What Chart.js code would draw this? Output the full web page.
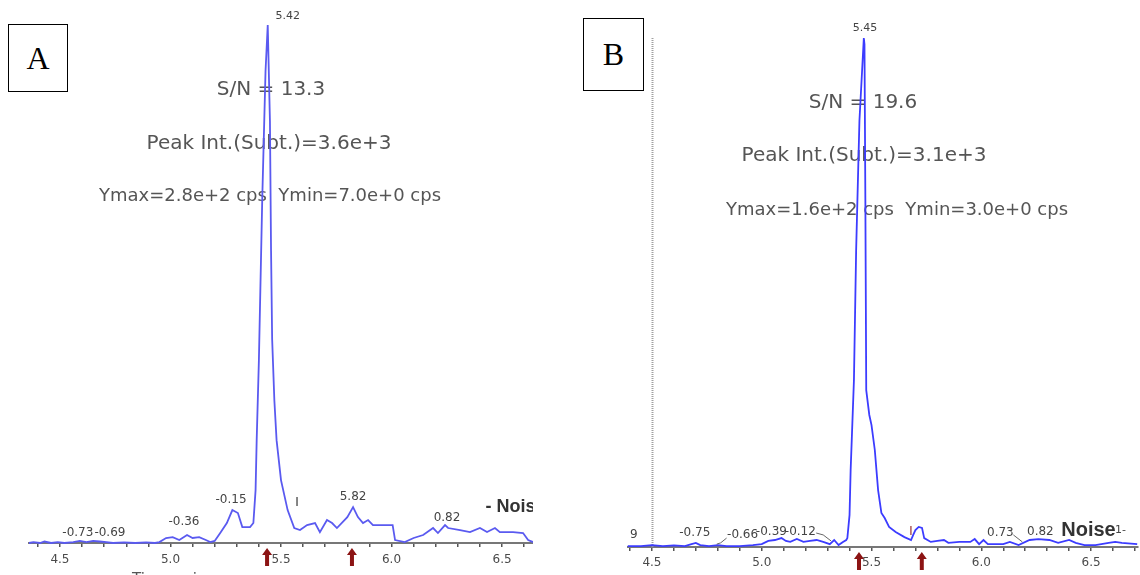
<!DOCTYPE html>
<html>
<head>
<meta charset="utf-8">
<script src="https://cdn.jsdelivr.net/npm/chart.js@4.4.0/dist/chart.umd.min.js"></script>
<style>
  body { margin: 0; width: 1140px; height: 575px; background: #fff; position: relative; overflow: hidden; }
  canvas { position: absolute; top: 0; }
  #chartA { left: 0; }
  #chartB { left: 580px; }
  .tag { position: absolute; border: 1px solid #000; background: #fff; font-family: "Liberation Serif", serif;
         font-size: 32px; color: #000; display: flex; align-items: center; justify-content: center; }
</style>
</head>
<body>
<canvas id="chartA" width="533" height="575"></canvas>
<canvas id="chartB" width="560" height="575"></canvas>
<div class="tag" style="left:8px; top:24px; width:58px; height:66px;">A</div>
<div class="tag" style="left:583px; top:18px; width:59px; height:71px;">B</div>
<script>
// retention time (min) and intensity (cps)
const timeA = [4.36, 4.38, 4.41, 4.43, 4.46, 4.49, 4.52, 4.56, 4.59, 4.62, 4.65, 4.68, 4.71, 4.74, 4.79, 4.84, 4.89, 4.93,
  4.95, 4.98, 5.01, 5.04, 5.075, 5.10, 5.13, 5.16, 5.18, 5.20, 5.225, 5.255, 5.28, 5.305, 5.325, 5.36, 5.375, 5.385,
  5.39, 5.40, 5.415, 5.43, 5.44, 5.45, 5.455, 5.46, 5.47, 5.48, 5.50, 5.53, 5.56, 5.586, 5.618, 5.654, 5.676, 5.708,
  5.731, 5.753, 5.80, 5.826, 5.848, 5.871, 5.894, 5.916, 5.95, 6.005, 6.016, 6.06, 6.10, 6.143, 6.188, 6.21, 6.242,
  6.256, 6.31, 6.355, 6.40, 6.432, 6.468, 6.49, 6.55, 6.595, 6.618, 6.64];
const intensityA = [0, 0.5, 0, 0.8, 0, 0.5, 0, 0.5, 1.1, 0.5, 1.1, 0.8, 0.5, 0, 0.3, 0, 0.3, 0,
  0.5, 2.7, 3.2, 1.6, 4.3, 2.7, 3.2, 1.6, 0.5, 1.1, 5.4, 10.8, 17.8, 16.2, 8.6, 8.6, 10.8, 28.6,
  55.6, 98.8, 185, 255, 280, 228, 158, 110, 77, 55.6, 34, 17.8, 8.1, 7.0, 9.7, 10.8, 5.9, 12.4,
  10.8, 8.1, 14.0, 19.4, 14.0, 10.8, 12.4, 9.7, 9.7, 9.7, 1.6, 0.5, 2.7, 4.3, 8.1, 5.4, 9.7,
  8.1, 7.0, 5.9, 8.1, 5.9, 8.1, 5.9, 5.9, 5.4, 1.6, 0.5];

const timeB = [4.39, 4.45, 4.50, 4.55, 4.60, 4.65, 4.68, 4.70, 4.72, 4.76, 4.80, 4.84, 4.90, 4.96, 5.00, 5.03, 5.06,
  5.09, 5.11, 5.13, 5.16, 5.19, 5.22, 5.25, 5.28, 5.31, 5.33, 5.35, 5.37, 5.385, 5.39, 5.40, 5.405, 5.41, 5.42, 5.43,
  5.445, 5.465, 5.468, 5.472, 5.476, 5.49, 5.50, 5.515, 5.53, 5.545, 5.56, 5.58, 5.61, 5.65, 5.68, 5.69, 5.70, 5.715,
  5.73, 5.74, 5.77, 5.80, 5.83, 5.85, 5.90, 5.95, 5.97, 5.99, 6.01, 6.03, 6.10, 6.13, 6.17, 6.22, 6.26, 6.31, 6.35,
  6.40, 6.43, 6.47, 6.52, 6.58, 6.61, 6.64, 6.71];
const intensityB = [0.3, 0.3, 0.6, 0.3, 0.5, 0.3, 0.9, 1.3, 0.6, 0.3, 0.6, 0.3, 0.3, 0.6, 0.9, 1.9, 2.2,
  2.8, 1.9, 1.6, 2.5, 1.6, 1.9, 2.2, 1.6, 0.9, 2.2, 0.6, 1.6, 2.2, 2.8, 10.1, 24.2, 33.6, 52.5, 93.3,
  134, 160, 158, 109, 49.3, 41.5, 38.3, 30.5, 17.9, 10.7, 9.1, 6.3, 4.7, 3.1, 2.2, 3.8, 5.3, 6.3,
  6.0, 2.8, 1.6, 1.9, 2.2, 1.3, 1.6, 1.6, 2.5, 0.9, 2.2, 0.9, 0.9, 1.6, 0.6, 2.2, 2.5, 2.2, 1.3,
  2.2, 1.3, 0.6, 0.6, 1.3, 1.6, 1.3, 0.9];

const tickLabels = ['4.5', '5.0', '5.5', '6.0', '6.5'];
const arrowsA = [5.437, 5.821];
const arrowsB = [5.443, 5.729];

const statsA = ['S/N = 13.3', 'Peak Int.(Subt.)=3.6e+3', 'Ymax=2.8e+2 cps  Ymin=7.0e+0 cps'];
const statsB = ['S/N = 19.6', 'Peak Int.(Subt.)=3.1e+3', 'Ymax=1.6e+2 cps  Ymin=3.0e+0 cps'];

const minorTicks = [];
for (let i = 44; i <= 67; i++) minorTicks.push(i / 10);

// draws the text block, small peak labels, the red integration arrows
const annotate = {
  id: 'annotate',
  beforeDatasetsDraw(chart, args, o) {
    const ctx = chart.ctx, xs = chart.scales.x, area = chart.chartArea;
    ctx.save();
    if (o.marker !== undefined) {
      const px = Math.round(xs.getPixelForValue(o.marker)) + 0.5;
      ctx.strokeStyle = '#a0a0a0';
      ctx.lineWidth = 2;
      ctx.setLineDash([1, 1]);
      ctx.beginPath();
      ctx.moveTo(px, area.top);
      ctx.lineTo(px, area.bottom);
      ctx.stroke();
      ctx.setLineDash([]);
    }
    ctx.fillStyle = '#555';
    ctx.textAlign = 'center';
    ctx.textBaseline = 'middle';
    o.stats.forEach((s, i) => {
      const p = o.statsPos[i];
      ctx.font = p.size + 'px "DejaVu Sans"';
      ctx.fillText(s, p.x, p.y);
    });
    ctx.restore();
  },
  afterDatasetsDraw(chart, args, o) {
    const ctx = chart.ctx, xs = chart.scales.x, ys = chart.scales.y;
    ctx.save();
    ctx.textBaseline = 'middle';
    o.labels.forEach(l => {
      ctx.font = (l.bold ? 'bold ' : '') + (l.size || 12) + 'px ' + (l.family || '"DejaVu Sans"');
      ctx.fillStyle = l.color || '#444';
      ctx.textAlign = l.align || 'center';
      ctx.fillText(l.text, xs.getPixelForValue(l.x), ys.getPixelForValue(l.y));
    });
    ctx.strokeStyle = '#666';
    ctx.lineWidth = 1;
    (o.leaders || []).forEach(pts => {
      ctx.beginPath();
      pts.forEach((p, i) => {
        const px = xs.getPixelForValue(p[0]), py = ys.getPixelForValue(p[1]);
        if (i === 0) ctx.moveTo(px, py); else ctx.lineTo(px, py);
      });
      ctx.stroke();
    });
    ctx.fillStyle = '#8c1414';
    const base = chart.chartArea.bottom;
    o.arrows.forEach(v => {
      const px = xs.getPixelForValue(v);
      const top = base + 5;
      ctx.beginPath();
      ctx.moveTo(px, top);
      ctx.lineTo(px + 5, top + 7);
      ctx.lineTo(px + 2, top + 7);
      ctx.lineTo(px + 2, top + 18);
      ctx.lineTo(px - 2, top + 18);
      ctx.lineTo(px - 2, top + 7);
      ctx.lineTo(px - 5, top + 7);
      ctx.closePath();
      ctx.fill();
    });
    if (o.footer) {
      ctx.font = '15px "DejaVu Sans"';
      ctx.fillStyle = '#555';
      ctx.textAlign = 'left';
      ctx.textBaseline = 'top';
      ctx.fillText(o.footer.text, o.footer.x, o.footer.y);
    }
    ctx.restore();
  }
};

function xAxis(min, max, axisHeight, pad) {
  return {
    type: 'linear',
    min: min,
    max: max,
    afterBuildTicks: s => { s.ticks = minorTicks.filter(v => v >= min && v <= max).map(v => ({ value: v })); },
    afterFit: s => { s.height = axisHeight; },
    grid: { drawOnChartArea: false, tickLength: 4, color: '#555', lineWidth: 1.5 },
    border: { color: '#777', width: 2 },
    ticks: {
      autoSkip: false,
      maxRotation: 0,
      padding: pad,
      color: '#4a4a4a',
      font: { family: 'DejaVu Sans', size: 12 },
      callback: v => { const s = Number(v).toFixed(1); return tickLabels.includes(s) ? s : ''; }
    }
  };
}

function makeChart(id, times, values, color, ymax, padding, xmin, xmax, axisHeight, pad, notes) {
  return new Chart(document.getElementById(id), {
    type: 'line',
    data: {
      datasets: [{
        data: times.map((t, i) => ({ x: t, y: values[i] })),
        borderColor: color,
        borderWidth: 1.8,
        pointRadius: 0,
        tension: 0,
        clip: 6
      }]
    },
    options: {
      responsive: false,
      animation: false,
      layout: { padding: padding },
      scales: {
        x: xAxis(xmin, xmax, axisHeight, pad),
        y: { display: false, min: 0, max: ymax }
      },
      plugins: { legend: { display: false }, tooltip: { enabled: false }, annotate: notes }
    },
    plugins: [annotate]
  });
}

makeChart('chartA', timeA, intensityA, '#5a5af0', 280, { left: 29, right: 0, top: 25, bottom: 0 }, 4.36, 6.64, 32, 6, {
  stats: statsA,
  statsPos: [{ x: 271, y: 90, size: 20 }, { x: 269, y: 144, size: 20 }, { x: 270, y: 196, size: 18 }],
  labels: [
    { text: '5.42', x: 5.53, y: 285, size: 11 },
    { text: '-0.73', x: 4.581, y: 5.4 },
    { text: '-0.69', x: 4.726, y: 5.4 },
    { text: '-0.36', x: 5.061, y: 11.3 },
    { text: '-0.15', x: 5.274, y: 23.2 },
    { text: 'I', x: 5.572, y: 21.6, color: '#333' },
    { text: '5.82', x: 5.826, y: 24.8 },
    { text: '0.82', x: 6.251, y: 13.5 },
    { text: '- Noise', x: 6.425, y: 19.4, align: 'left', bold: true, size: 18, family: '"Liberation Sans"', color: '#333' }
  ],
  arrows: arrowsA,
  footer: { text: 'Time, min', x: 132, y: 573 }
});

makeChart('chartB', timeB, intensityB, '#3c3cff', 160, { left: 48, right: 0, top: 38, bottom: 0 }, 4.391, 6.713, 28, 5, {
  marker: 4.5,
  stats: statsB,
  statsPos: [{ x: 283, y: 103, size: 20 }, { x: 284, y: 156, size: 20 }, { x: 317, y: 210, size: 18 }],
  labels: [
    { text: '5.45', x: 5.47, y: 163, size: 11 },
    { text: '9', x: 4.418, y: 3.8 },
    { text: '-0.75', x: 4.695, y: 4.4 },
    { text: '-0.66', x: 4.913, y: 3.8 },
    { text: '-0.39', x: 5.044, y: 4.7 },
    { text: '-0.12', x: 5.176, y: 4.7 },
    { text: 'I', x: 5.679, y: 4.7, color: '#a04040', size: 13 },
    { text: '0.73', x: 6.087, y: 4.4 },
    { text: '0.82', x: 6.269, y: 4.7 },
    { text: 'Noise', x: 6.364, y: 5.3, align: 'left', bold: true, size: 20, family: '"Liberation Sans"', color: '#333' },
    { text: '1-', x: 6.609, y: 5.3, align: 'left', size: 11 }
  ],
  leaders: [
    [[4.795, 0.9], [4.813, 1.3], [4.84, 2.8]],
    [[5.248, 4.4], [5.28, 3.8], [5.316, 1.9]],
    [[6.146, 3.8], [6.187, 1.6]]
  ],
  arrows: arrowsB
});
</script>
</body>
</html>
